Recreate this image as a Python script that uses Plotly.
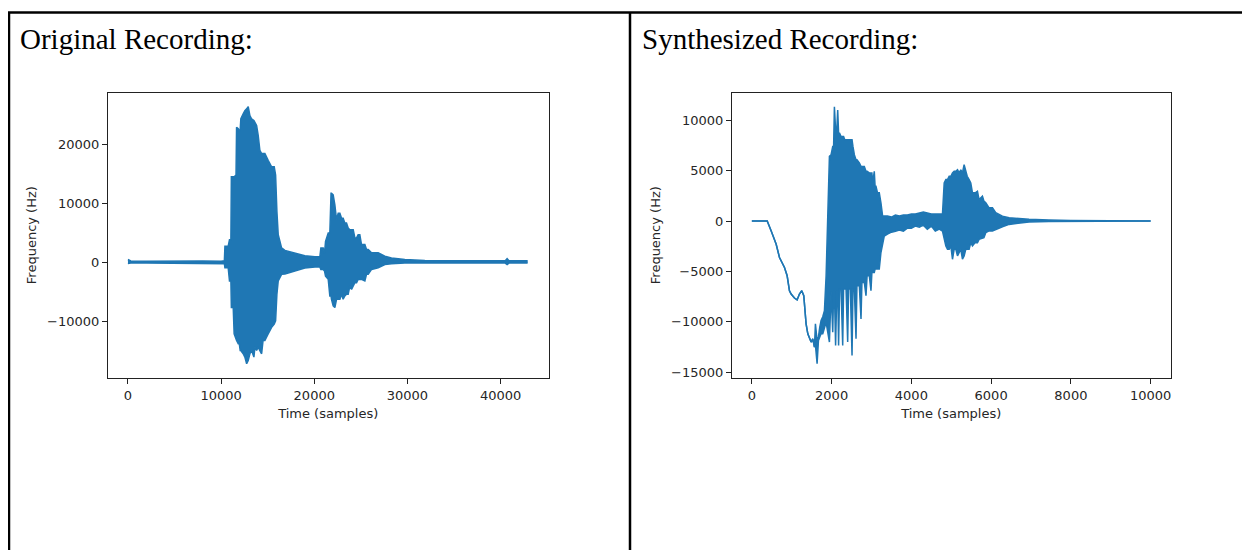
import plotly.graph_objects as go

# ---------------- data ----------------
# Original recording: min/max envelope of the waveform, sampled at chosen sample indices
orig_t = [0, 300, 2000, 4000, 6000, 8000, 10000, 10350, 10410, 10760, 10900, 11050,
          11100, 11300, 11400, 11600, 11660, 11840, 11950, 12050, 12120, 12370, 12550,
          12740, 12910, 13090, 13270, 13520, 13630, 13810, 13980, 14160, 14350, 14500,
          14700, 15050, 15420, 15700, 15850, 15990, 16130, 16310, 16490, 16850, 17920,
          18990, 20070, 20600, 20710, 20960, 21100, 21210, 21500, 21670, 21800, 21850,
          22030, 22210, 22390, 22570, 22750, 22930, 23100, 23280, 23460, 23640, 23820,
          24000, 24180, 24360, 24540, 24710, 24890, 25070, 25430, 25610, 25790, 26150,
          26860, 27580, 28290, 29720, 31870, 35000, 38000, 40500, 40700, 40900, 42000, 42900]
orig_hi = [450, 200, 150, 200, 150, 200, 150, 250, 2700, 2700, 3800, 3800,
           14480, 14480, 14480, 14770, 22900, 22630, 22060, 22630, 24320, 25160, 25710,
           26000, 26390, 24870, 24320, 24030, 23740, 23190, 21500, 18980, 18420, 18420,
           18420, 17290, 16170, 16170, 14770, 8590, 4660, 3540, 2420, 2000, 1500,
           1100, 900, 900, 2420, 2420, 1500, 3540, 4950, 4950, 11680, 11680,
           11400, 9720, 7190, 8310, 8310, 7470, 7470, 6630, 6630, 5790, 5510,
           5510, 5510, 4110, 4110, 4670, 4670, 2980, 2980, 2140, 2140, 1580,
           1580, 1010, 700, 450, 300, 250, 250, 250, 600, 250, 250, 250]
orig_lo = [-250, -150, -150, -150, -200, -150, -200, -250, -950, -950, -3200, -3200,
           -7680, -7680, -12180, -13300, -13300, -13860, -13860, -14990, -14990, -15540, -16100,
           -17230, -16670, -15540, -14990, -16100, -14410, -14990, -14410, -14990, -15540, -13300,
           -13300, -12180, -11050, -10490, -9930, -5440, -3200, -2630, -2070, -2000, -1500,
           -1000, -800, -800, -1230, -1230, -1500, -2360, -2920, -5730, -5730, -6290,
           -7410, -7690, -6290, -6290, -6290, -5440, -6290, -5730, -5440, -5440, -4040,
           -4600, -4040, -3480, -3480, -2920, -2920, -2920, -3200, -2070, -2070, -1230,
           -950, -390, -250, -150, -150, -150, -150, -150, -400, -150, -150, -150]

# Synthesized recording: min/max envelope (equal where the signal is a single slow curve)
synth_t = [0, 385, 485, 610, 693, 818, 885, 943, 985, 1068, 1135, 1193, 1252, 1302, 1360,
           1403, 1486, 1527, 1570, 1594, 1636, 1670, 1703, 1736, 1778, 1820, 1862, 1903,
           1945, 1987, 2028, 2050, 2070, 2100, 2130, 2153, 2175, 2200, 2237, 2278, 2300,
           2330, 2362, 2403, 2425, 2470, 2512, 2535, 2570, 2612, 2635, 2695, 2737, 2760,
           2820, 2862, 2890, 2945, 2987, 3010, 3029, 3070, 3090, 3112, 3150, 3195, 3237,
           3279, 3320, 3400, 3500, 3600, 3700, 3800, 3900, 4000, 4100, 4200, 4300, 4400,
           4500, 4600, 4700, 4780, 4823, 4865, 4906, 4948, 4990, 5031, 5073, 5115, 5157,
           5198, 5240, 5281, 5323, 5365, 5400, 5448, 5490, 5532, 5600, 5657, 5698, 5782,
           5820, 5866, 5949, 6033, 6116, 6283, 6450, 6700, 6950, 7451, 8000, 10000]
synth_hi = [0, 0, -990, -2300, -3620, -4600, -5430, -6920, -7240, -7640, -7830, -7240, -6920, -7410, -10200,
            -11190, -12010, -11690, -12510, -10200, -11860, -11500, -10540, -9880, -9500, -8890, -5430, 500,
            6420, 6590, 7410, 7410, 11360, 9060, 9060, 11030, 8730, 8730, 8400, 8400, 8400,
            8070, 8070, 8070, 8070, 8070, 8070, 7410, 6590, 6100, 6100, 5770, 5430, 5430,
            5430, 4940, 4940, 4780, 4780, 4780, 3790, 4940, 3460, 3460, 2810, 2810, 1820,
            500, 500, 500, 400, 600, 500, 600, 600, 700, 700, 800, 900, 800,
            700, 700, 700, 700, 3790, 4120, 4120, 4450, 4450, 4780, 4940, 4940, 5100,
            4780, 5100, 4780, 5600, 5100, 4450, 4120, 3790, 2810, 2810, 2960, 2140, 2470,
            1980, 1820, 1320, 1320, 830, 490, 330, 250, 170, 100, 50, 0]
synth_lo = [0, 0, -990, -2300, -3620, -4600, -5430, -6920, -7240, -7640, -7830, -7240, -6920, -7410, -10200,
            -11190, -12010, -11690, -12510, -12300, -14160, -11860, -11500, -11190, -11190, -10500, -10040, -11030,
            -12010, -7000, -11030, -7000, -7000, -12350, -7000, -7000, -12350, -6750, -6750, -12350, -6750,
            -6750, -6750, -12010, -6750, -6750, -13340, -6750, -6750, -11690, -6420, -6420, -9710, -6090,
            -6090, -7410, -5430, -5430, -6920, -5100, -5100, -5100, -4770, -4770, -4770, -4770, -3120,
            -2140, -1500, -1300, -1100, -1000, -900, -1000, -700, -700, -500, -600, -400, -800,
            -500, -1000, -800, -1000, -1810, -2470, -2800, -2800, -2470, -3790, -2800, -2800, -3460,
            -3120, -2800, -3790, -3460, -2800, -2800, -2800, -2140, -2470, -2140, -2140, -1810, -1640,
            -1640, -1150, -980, -980, -820, -560, -330, -200, -100, -50, -50, 0]

orig_xticks = [0, 10000, 20000, 30000, 40000]
orig_yticks = [-10000, 0, 10000, 20000]
synth_xticks = [0, 2000, 4000, 6000, 8000, 10000]
synth_yticks = [-15000, -10000, -5000, 0, 5000, 10000]

titles = ["Original Recording:", "Synthesized Recording:"]
x_label = "Time (samples)"
y_label = "Frequency (Hz)"

# ---------------- figure ----------------
W, H = 1250, 550
OFF = 8  # the page body margin shifts the figure by 8px
BLUE = "#1f77b4"

fig = go.Figure()


def add_wave(t, lo, hi, xa, ya):
    fig.add_trace(go.Scatter(x=t, y=lo, mode="lines", line=dict(color=BLUE, width=1.5),
                             xaxis=xa, yaxis=ya, showlegend=False, hoverinfo="skip"))
    fig.add_trace(go.Scatter(x=t, y=hi, mode="lines", line=dict(color=BLUE, width=1.5),
                             fill="tonexty", fillcolor=BLUE,
                             xaxis=xa, yaxis=ya, showlegend=False, hoverinfo="skip"))


add_wave(orig_t, orig_lo, orig_hi, "x", "y")
add_wave(synth_t, synth_lo, synth_hi, "x2", "y2")


def px_x(p):
    return (p - OFF) / W


def px_y(p):
    return 1 - (p - OFF) / H


tickfont = dict(family="DejaVu Sans", size=13, color="#262626")
axis_common = dict(showgrid=False, zeroline=False, showline=True, linecolor="#222",
                   linewidth=1, mirror=True, ticks="outside", ticklen=5, tickwidth=1,
                   tickcolor="#222", tickfont=tickfont, tickformat="d")

fig.update_layout(
    width=W, height=H,
    margin=dict(l=0, r=0, t=0, b=0),
    paper_bgcolor="white", plot_bgcolor="white",
    xaxis=dict(domain=[px_x(108), px_x(549)], range=[-2150, 45150], tickvals=orig_xticks,
               anchor="y", ticklabelstandoff=1,
               title=dict(text=x_label, font=tickfont, standoff=6), **axis_common),
    yaxis=dict(domain=[px_y(379), px_y(93)], range=[-19590, 28750], tickvals=orig_yticks,
               anchor="x", title=dict(text=y_label, font=tickfont, standoff=7), **axis_common),
    xaxis2=dict(domain=[px_x(732.5), px_x(1171.5)], range=[-500, 10500], tickvals=synth_xticks,
                anchor="y2", ticklabelstandoff=1,
                title=dict(text=x_label, font=tickfont, standoff=6), **axis_common),
    yaxis2=dict(domain=[px_y(379), px_y(93)], range=[-15546, 12748], tickvals=synth_yticks,
                anchor="x2", title=dict(text=y_label, font=tickfont, standoff=7), **axis_common),
)

# table borders
line_style = dict(color="black", width=2.5)
fig.add_shape(type="line", xref="paper", yref="paper", x0=0, x1=1,
              y0=px_y(12.5), y1=px_y(12.5), line=line_style)
fig.add_shape(type="line", xref="paper", yref="paper", x0=px_x(9), x1=px_x(9),
              y0=0, y1=px_y(12), line=line_style)
fig.add_shape(type="line", xref="paper", yref="paper", x0=px_x(630.5), x1=px_x(630.5),
              y0=0, y1=px_y(12), line=line_style)

# cell titles
for txt, xp in zip(titles, [18, 641]):
    fig.add_annotation(text=txt, xref="paper", yref="paper", x=px_x(xp), y=px_y(39),
                       xanchor="left", yanchor="middle", showarrow=False,
                       font=dict(family="Liberation Serif", size=29, color="black"))

fig.write_html("out.html")
